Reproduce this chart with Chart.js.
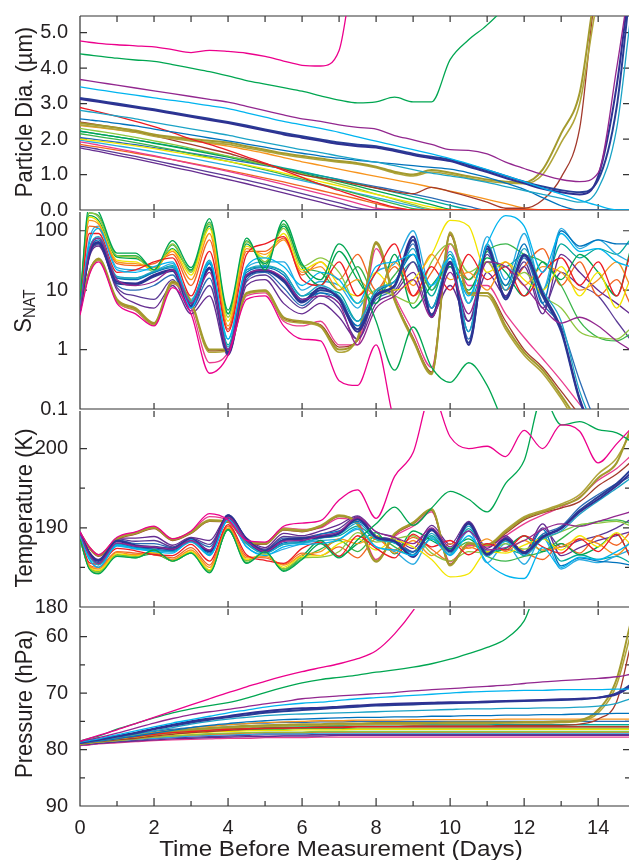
<!DOCTYPE html>
<html>
<head>
<meta charset="utf-8">
<script src="https://cdn.jsdelivr.net/npm/chart.js@4.4.1/dist/chart.umd.min.js"></script>
<style>
  body { margin: 0; background: #fff; }
  #fig { position: relative; width: 629px; height: 860px; overflow: hidden;
         font-family: 'Liberation Sans', Arial, sans-serif; color: #231f20; }
  #fig canvas { position: absolute; left: 0; }
  .ytitle { position: absolute; white-space: nowrap; font-size: 22px; line-height: 1;
            transform: translate(-50%, -50%) rotate(-90deg) scaleY(1.12); }
  .ytitle sub { font-size: 15px; vertical-align: -4px; }
  .xtitle { position: absolute; white-space: nowrap; font-size: 22px; line-height: 1;
            transform: translate(-50%, -50%) scaleX(1.1); }
</style>
</head>
<body>
<div id="fig">
  <canvas id="diaChart" width="631" height="226" style="top:0px"></canvas>
  <canvas id="snatChart" width="631" height="229" style="top:196px"></canvas>
  <canvas id="tempChart" width="631" height="228" style="top:395px"></canvas>
  <canvas id="presChart" width="631" height="267" style="top:593px"></canvas>
  <div class="ytitle" style="left:24px;top:112px">Particle Dia. (µm)</div>
  <div class="ytitle" style="left:24px;top:311px">S<sub>NAT</sub></div>
  <div class="ytitle" style="left:24px;top:508px">Temperature (K)</div>
  <div class="ytitle" style="left:24px;top:704px">Pressure (hPa)</div>
  <div class="xtitle" style="left:341px;top:849px">Time Before Measurement (Days)</div>
</div>
<script>
// sample times (days before measurement) shared by every trajectory
const days = [0, 0.25, 0.5, 1, 1.5, 2, 2.5, 3, 3.5, 4, 4.5, 5, 5.5, 6, 6.5, 7, 7.5, 8,
              8.5, 9, 9.5, 10, 10.5, 11, 11.5, 12, 12.5, 13, 13.5, 14, 14.5, 14.86];

const trajNames = ['magenta', 'green', 'purple', 'cyan', 'darkblue', 'navy', 'teal', 'blue',
                   'red', 'olive', 'olive2', 'brown', 'orange', 'yellow', 'yellowgreen', 'green2',
                   'green3', 'violet', 'pink', 'orangered', 'lightblue', 'indigo', 'seagreen', 'blue2'];
const trajColors = ['#ec008c', '#00a651', '#92278f', '#00b4ef', '#2e3192', '#283e96', '#1ba3c6', '#0072bc',
                    '#ed1c24', '#a39a2e', '#b0a53a', '#a33a2c', '#f7941d', '#f2e500', '#8dc63f', '#00a550',
                    '#3ab54a', '#662d91', '#e93d8f', '#f26522', '#29abe2', '#5b3a96', '#00a99d', '#2b6cb5'];
const trajWidths = [1.3, 1.3, 1.3, 1.3, 2, 2, 1.3, 1.3,
                    1.3, 2, 1.6, 1.3, 1.3, 1.3, 1.3, 1.3,
                    1.3, 1.3, 1.3, 1.3, 1.3, 1.3, 1.3, 1.3];

// particle diameter (µm), one row per trajectory
const diameter = [
  [4.77,4.73,4.70,4.66,4.63,4.60,4.52,4.44,4.50,4.47,4.42,4.33,4.20,4.08,4.06,4.50,7,7,7,7,7,7,7,7,7,7,7,7,7,7,7,7],
  [4.40,4.37,4.34,4.28,4.23,4.19,4.10,4.00,3.90,3.78,3.65,3.55,3.45,3.35,3.22,3.10,3.02,3.05,3.18,3.05,3.05,4.24,4.80,5.22,5.80,7,7,7,7,7,7,7],
  [3.68,3.64,3.60,3.52,3.44,3.36,3.28,3.20,3.12,3.04,2.92,2.80,2.68,2.57,2.50,2.40,2.33,2.28,2.10,1.98,1.85,1.70,1.68,1.58,1.35,1.17,1.00,0.86,0.80,1.05,4.0,6.5],
  [3.47,3.43,3.39,3.31,3.24,3.16,3.09,3.02,2.94,2.86,2.74,2.62,2.50,2.40,2.30,2.19,2.06,1.94,1.82,1.70,1.58,1.45,1.30,1.14,0.97,0.80,0.62,0.45,0.28,0.12,0,0],
  [3.13,3.09,3.05,2.97,2.89,2.81,2.72,2.63,2.54,2.45,2.35,2.24,2.13,2.04,1.95,1.86,1.80,1.76,1.66,1.55,1.46,1.38,1.22,1.07,0.90,0.75,0.60,0.50,0.44,0.95,3.5,6.5],
  [3.16,3.12,3.08,3.00,2.92,2.84,2.75,2.66,2.57,2.48,2.38,2.27,2.17,2.08,1.99,1.90,1.84,1.80,1.70,1.59,1.50,1.42,1.27,1.12,0.96,0.80,0.66,0.56,0.50,0.85,2.9,6.2],
  [2.81,2.77,2.73,2.65,2.57,2.47,2.38,2.29,2.20,2.11,2.00,1.90,1.80,1.70,1.62,1.52,1.43,1.35,1.25,1.14,1.04,0.96,0.88,0.78,0.66,0.55,0.44,0.33,0.22,0.60,2.3,5.3],
  [2.57,2.54,2.51,2.44,2.37,2.28,2.20,2.12,2.03,1.95,1.86,1.77,1.68,1.60,1.52,1.46,1.40,1.35,1.30,1.25,1.20,1.15,1.05,0.92,0.76,0.58,0.35,0.12,0,0,0,0],
  [2.89,2.83,2.77,2.64,2.50,2.35,2.18,2.00,1.85,1.68,1.50,1.32,1.12,0.92,0.72,0.55,0.38,0.22,0.08,0,0,0,0,0,0,0,0,0,0,0,0,0],
  [2.45,2.42,2.39,2.32,2.24,2.13,2.06,2.00,1.95,1.90,1.80,1.70,1.60,1.52,1.45,1.38,1.32,1.22,1.08,1.00,1.13,1.05,0.95,0.86,0.80,0.78,1.14,2.16,3.30,6.5,7,7],
  [2.40,2.37,2.34,2.27,2.19,2.08,2.01,1.95,1.90,1.85,1.75,1.66,1.56,1.48,1.41,1.35,1.29,1.19,1.04,0.96,1.07,1.00,0.90,0.81,0.76,0.74,1.00,1.90,3.00,6.0,7,7],
  [2.48,2.44,2.40,2.32,2.22,2.10,1.97,1.85,1.72,1.60,1.45,1.30,1.15,1.00,0.90,0.82,0.72,0.62,0.52,0.46,0.64,0.52,0.38,0.22,0.05,0.05,0.28,0.92,2.3,6.5,7,7],
  [2.38,2.35,2.32,2.26,2.19,2.12,2.04,1.96,1.88,1.80,1.70,1.60,1.48,1.36,1.26,1.15,1.05,0.95,0.85,0.75,0.64,0.53,0.42,0.30,0.18,0.05,0,0,0,0,0,0],
  [2.00,1.97,1.94,1.88,1.81,1.73,1.64,1.55,1.46,1.37,1.27,1.16,1.04,0.92,0.80,0.68,0.56,0.44,0.32,0.20,0.08,0,0,0,0,0,0,0,0,0,0,0],
  [2.30,2.26,2.22,2.14,2.05,1.95,1.85,1.74,1.63,1.52,1.40,1.28,1.15,1.02,0.88,0.74,0.60,0.45,0.30,0.15,0.02,0,0,0,0,0,0,0,0,0,0,0],
  [2.22,2.18,2.14,2.06,1.98,1.88,1.79,1.69,1.59,1.49,1.38,1.27,1.16,1.04,0.92,0.80,0.67,0.54,0.41,0.28,0.15,0.02,0,0,0,0,0,0,0,0,0,0],
  [2.15,2.11,2.07,1.99,1.90,1.80,1.70,1.59,1.48,1.37,1.25,1.13,1.00,0.87,0.73,0.59,0.45,0.31,0.17,0.04,0,0,0,0,0,0,0,0,0,0,0,0],
  [1.75,1.70,1.65,1.54,1.44,1.33,1.21,1.10,0.98,0.86,0.74,0.61,0.48,0.35,0.22,0.09,0,0,0,0,0,0,0,0,0,0,0,0,0,0,0,0],
  [1.92,1.88,1.83,1.73,1.63,1.53,1.42,1.31,1.20,1.09,0.97,0.85,0.72,0.59,0.46,0.33,0.19,0.05,0,0,0,0,0,0,0,0,0,0,0,0,0,0],
  [1.85,1.81,1.77,1.69,1.60,1.51,1.42,1.32,1.22,1.12,1.01,0.90,0.79,0.67,0.55,0.43,0.31,0.18,0.06,0,0,0,0,0,0,0,0,0,0,0,0,0],
  [1.97,1.93,1.89,1.81,1.73,1.64,1.55,1.46,1.36,1.26,1.16,1.05,0.94,0.83,0.71,0.59,0.47,0.35,0.23,0.11,0,0,0,0,0,0,0,0,0,0,0,0],
  [1.80,1.76,1.71,1.61,1.51,1.40,1.29,1.18,1.07,0.96,0.84,0.72,0.59,0.46,0.33,0.20,0.06,0,0,0,0,0,0,0,0,0,0,0,0,0,0,0],
  [2.22,2.18,2.14,2.06,1.98,1.89,1.80,1.71,1.61,1.51,1.41,1.30,1.19,1.08,0.97,0.85,0.74,0.62,0.50,0.38,0.26,0.13,0.02,0,0,0,0,0,0,0,0,0],
  [2.05,2.01,1.98,1.91,1.84,1.76,1.68,1.60,1.52,1.43,1.34,1.25,1.16,1.06,0.96,0.86,0.76,0.66,0.56,0.45,0.34,0.22,0.10,0,0,0,0,0,0,0,0,0]
];

// NAT saturation ratio
const snat = [
  [3.8,18,30,6,4,2.5,11,4,0.4,0.8,7,8,2.5,1.5,1.4,0.3,0.25,1.2,0.06,0.03,0.02,0.02,0.02,0.02,0.02,0.02,0.02,0.02,0.02,0.02,0.02,0.02],
  [7,260,210,42,42,22,68,24,160,4.6,75,22,150,28,15,60,20,3,0.45,2.4,0.5,0.28,0.6,0.25,0.05,0.02,0.02,0.02,0.02,0.02,0.02,0.02],
  [4.6,45,75,15,12,14,22,6,20,1.0,18,22,16,7,8,6,1.2,5,8,15,3.5,20,4,30,25,12,5,2.8,3.5,2.5,1.4,1.0],
  [5,60,110,22,20,25,30,5,30,1.5,25,35,25,12,20,15,6,25,30,40,12,35,8,60,180,120,20,90,45,50,30,25],
  [4.5,40,65,14,13,18,22,5.5,24,0.9,18,22,15,6.5,11,7,2.0,8,12,80,3.5,30,1.2,55,7,40,9,2.2,0.15,0.03,0.02,0.02],
  [4.4,40,62,13,12.5,17,21,5.2,23,0.85,17,21,14,6.2,10,7.5,2.2,8.5,12,70,3.8,28,1.3,50,7.5,38,8,2.0,0.14,0.03,0.02,0.02],
  [4.8,48,80,17,16,21,25,6.5,32,1.1,22,26,20,8,12,8,3,10,14,50,5,35,2,60,10,50,10,3,0.2,0.04,0.02,0.02],
  [4.5,42,70,16,15,20,24,6,28,1.0,20,24,18,7,9,7,2.5,9,14,40,5,30,2,50,12,60,6,100,55,70,60,60],
  [5,90,90,20,22,30,35,8,45,2,40,60,80,15,12,30,8,20,60,8,25,10,40,15,25,8,20,35,12,30,8,40],
  [4.6,20,34,7,5,2.8,14,6.5,1.0,1.0,9,10,3.5,3.0,2.5,1.0,1.5,65,7,1.5,0.4,90,9,9,2.5,0.9,0.45,0.17,0.06,0.03,0.02,0.02],
  [4.5,19,32,6.5,4.6,2.6,13,6,0.9,0.95,8.5,9.5,3.2,2.8,2.4,0.9,1.6,60,6.5,1.4,0.38,95,8.5,8,2.2,0.8,0.4,0.15,0.05,0.03,0.02,0.02],
  [4.4,21,33,6.8,4.8,2.7,13.5,6.2,0.95,0.98,8.8,9.8,3.4,2.9,2.6,1.1,1.4,62,7,1.6,0.42,85,9,9,3,1.0,0.5,0.2,0.08,0.04,0.02,0.02],
  [6,150,130,30,28,24,45,15,90,2.5,50,40,70,20,25,10,15,8,30,12,40,15,20,10,30,12,25,20,10,15,30,12],
  [6,170,140,32,30,22,48,18,110,3,55,35,90,22,30,12,8,20,10,15,40,150,120,20,30,15,10,25,8,20,5,15],
  [7,200,170,38,36,20,60,20,130,3.5,65,30,110,25,35,20,6,10,8,6,30,60,20,30,12,20,8,5,2.0,1.6,1.5,2.2],
  [6,180,150,36,34,24,50,22,120,4,60,28,120,24,12,45,15,6,40,5,12,25,10,35,20,8,30,15,40,20,8,45],
  [6.5,200,180,38,38,22,58,21,140,4,68,26,130,26,20,10,25,8,18,40,10,30,15,45,60,40,30,12,3,1.6,1.4,1.8],
  [4.2,35,55,10,6,5,12,4,8,0.8,12,15,6,4,6,3.5,1.5,6,9,20,4,12,3,20,8,25,4,40,20,10,6,4],
  [4.2,20,32,6.5,4.5,2.6,13,5,0.6,0.9,8,9,3,2.5,3,1.2,1.2,50,8,2,0.5,60,12,12,4,1.6,0.7,0.3,0.12,0.05,0.03,0.02],
  [5.5,120,110,28,26,28,40,12,70,2.2,45,45,75,18,30,15,40,10,25,8,20,60,15,30,10,25,50,12,30,8,15,6],
  [5,70,120,24,22,22,28,7,28,1.5,24,30,30,10,14,12,5,20,28,100,10,45,6,80,15,90,10,110,50,70,40,30],
  [4.3,38,58,11,8,7,15,4.5,12,0.85,14,18,9,5,8,5,1.5,8,10,30,5,25,3,40,8,30,5,20,12,8,3,1.5],
  [5,50,75,16,16,20,26,6.5,30,1.2,22,25,20,8,10,9,3,10,14,30,8,40,6,30,25,40,10,60,35,50,40,70],
  [4.5,38,60,12,10,12,18,5,16,0.9,15,20,11,5.5,9,6,2.2,7,11,60,3.5,28,1.5,45,8,35,6,2.5,0.3,0.05,0.02,0.02]
];

// temperature (K)
const temperature = [
  [189.5,187.6,186.6,188.8,189.5,190.2,188.6,189.6,191.8,191.0,188.4,188.2,190.2,190.6,190.9,193.5,194.8,191.2,196.5,199.5,207,201.5,200.0,200.3,199.0,202.3,200.0,203.0,202.2,198.2,200.6,202.4],
  [188.6,184.8,184.2,186.4,186.2,187.2,185.8,186.8,184.3,189.8,185.5,187.0,184.5,186.0,188.0,186.2,188.5,190.5,192.6,190.3,192.5,194.6,193.6,192.0,195.6,198.5,206.5,203.0,203.4,202.4,202.0,201.0],
  [189.3,186.6,185.5,188.1,187.7,187.6,187.3,188.4,187.2,191.3,188.4,187.0,188.3,188.4,189.0,189.5,191.3,189.5,188.8,188.0,190.0,187.6,189.6,187.2,187.5,188.4,189.8,190.5,190.2,190.8,191.5,192.0],
  [189.0,186.0,185.0,187.8,187.4,187.0,186.8,188.5,186.5,191.0,187.6,186.5,187.6,187.9,188.0,188.5,190.0,187.6,187.2,186.5,188.6,186.5,189.0,185.6,184.0,183.6,187.5,185.0,186.3,186.0,187.0,188.0],
  [189.4,186.8,185.8,188.3,187.7,187.5,187.3,188.5,187.0,191.6,188.5,187.0,188.4,188.6,188.8,189.3,191.2,188.8,188.3,186.3,189.8,187.0,190.6,186.6,188.6,186.8,188.8,189.9,192.0,193.6,195.3,196.8],
  [189.4,186.8,185.9,188.4,187.8,187.6,187.4,188.6,187.1,191.6,188.6,187.1,188.5,188.7,188.9,189.3,191.1,188.8,188.3,186.4,189.7,187.1,190.5,186.7,188.6,186.9,188.9,190.0,192.2,193.9,195.6,197.2],
  [189.2,186.5,185.3,187.9,187.4,187.2,187.0,188.3,186.6,191.0,188.1,186.8,187.9,188.1,188.7,189.2,190.6,188.6,188.1,186.6,189.3,186.8,190.2,186.4,188.3,186.5,188.6,189.6,191.7,193.4,195.0,196.2],
  [189.3,186.7,185.6,188.0,187.5,187.3,187.1,188.4,186.8,191.2,188.3,186.9,188.1,188.3,189.2,189.6,190.8,188.9,188.1,186.9,189.7,187.1,190.6,186.6,188.5,186.5,189.8,185.2,186.2,185.8,185.6,185.3],
  [189.1,185.6,185.4,187.4,187.1,186.6,186.5,187.9,185.8,190.4,186.6,185.9,185.5,187.4,188.2,186.4,189.0,187.4,186.2,189.2,187.6,188.4,186.6,188.0,187.2,189.0,187.6,186.8,188.6,187.0,189.2,186.4],
  [189.4,187.5,186.5,188.6,189.3,190.0,188.5,189.4,190.9,190.8,188.2,188.0,189.8,189.6,190.2,191.5,190.5,185.7,189.2,190.6,192.3,185.3,188.0,187.8,189.5,191.2,192.0,192.8,193.8,196.3,198.2,202.3],
  [189.4,187.6,186.6,188.7,189.4,190.1,188.6,189.5,191.0,190.8,188.3,188.1,189.9,189.7,190.3,191.6,190.4,185.8,189.3,190.7,192.4,185.2,188.1,187.9,189.7,191.4,192.2,193.0,194.2,196.8,198.8,201.8],
  [189.3,187.4,186.4,188.5,189.2,189.9,188.4,189.3,190.8,190.7,188.1,187.9,189.7,189.5,190.1,191.4,190.6,185.8,189.1,190.5,192.2,185.4,188.0,187.8,189.3,191.0,191.9,192.5,193.3,195.3,196.8,198.2],
  [188.8,185.2,184.8,186.9,186.6,186.8,186.0,187.2,185.0,190.0,186.2,186.4,185.3,186.6,187.0,188.6,188.0,189.0,186.8,188.4,186.5,188.0,187.4,188.6,187.0,188.4,187.2,187.6,188.6,188.0,186.6,188.2],
  [188.7,185.1,184.6,186.7,186.5,186.9,185.9,187.0,184.7,189.9,186.0,186.7,185.0,186.4,186.5,188.0,188.6,187.2,188.4,187.6,186.0,183.8,184.2,187.0,186.8,187.8,188.6,187.2,189.0,187.6,189.4,188.0],
  [188.6,184.9,184.4,186.5,186.3,187.1,185.8,186.8,184.5,189.8,185.8,186.8,184.8,186.2,186.3,187.0,189.4,188.2,188.6,189.0,186.8,185.8,187.0,186.8,188.0,187.3,188.6,189.5,190.4,190.6,190.8,190.3],
  [188.7,185.0,184.5,186.6,186.4,186.7,185.9,186.9,184.6,189.7,185.9,186.8,184.8,186.4,188.4,186.4,188.0,189.4,186.7,189.6,188.4,187.4,188.6,186.8,187.4,189.0,187.0,188.0,186.6,187.6,189.2,186.4],
  [188.6,184.9,184.3,186.5,186.2,187.0,185.8,186.8,184.4,189.8,185.6,186.9,184.6,186.1,187.3,188.4,187.0,189.0,187.6,186.5,188.6,187.1,188.2,186.4,185.8,186.4,187.0,188.6,190.2,190.8,191.0,190.6],
  [189.5,187.0,186.0,188.7,188.7,188.9,187.8,188.8,188.4,191.5,188.7,187.5,189.3,189.0,189.6,190.4,191.5,189.5,188.8,187.4,190.3,187.9,190.8,187.4,189.0,186.9,190.5,186.5,187.5,188.4,189.0,189.5],
  [189.4,187.5,186.5,188.7,189.4,190.1,188.5,189.5,191.4,190.9,188.3,188.1,190.0,189.8,190.0,191.2,190.8,186.0,188.9,190.2,192.0,185.7,187.8,187.6,189.0,190.5,191.6,192.6,193.9,196.0,197.5,199.0],
  [188.9,185.3,185.0,187.0,186.8,186.6,186.2,187.5,185.3,190.2,186.4,186.2,185.4,186.8,186.5,187.6,186.2,188.6,187.2,188.8,187.3,185.8,187.6,186.8,188.4,187.0,186.0,188.0,186.8,189.0,187.8,189.4],
  [189.0,186.1,185.0,187.7,187.3,187.1,187.0,188.2,186.6,190.9,187.6,186.6,187.3,188.0,188.4,188.6,189.8,187.6,187.0,185.4,188.8,186.6,189.6,185.6,188.0,185.4,188.8,184.8,186.0,185.6,186.5,187.2],
  [189.5,186.9,185.9,188.6,188.3,188.4,187.6,188.7,187.9,191.5,188.6,187.3,188.9,188.8,189.2,189.9,191.4,189.0,188.5,187.0,189.8,187.3,190.6,186.6,188.8,186.8,190.0,187.6,188.4,189.0,190.0,191.0],
  [189.2,186.4,185.4,188.0,187.5,187.2,187.0,188.4,186.6,191.0,188.0,186.8,187.9,188.2,188.7,189.0,190.2,188.5,188.1,187.0,189.0,186.6,189.9,187.0,187.3,186.7,189.0,185.8,186.6,186.0,186.4,185.6],
  [189.4,186.9,185.9,188.5,188.0,188.0,187.5,188.6,187.6,191.5,188.6,187.2,188.7,188.7,189.0,189.5,191.0,189.0,188.4,186.6,189.9,187.1,190.6,186.8,188.8,186.9,189.2,190.2,192.6,194.2,195.6,196.4]
];

// pressure (hPa)
const pressure = [
  [78.5,78.0,77.5,76.5,75.4,74.3,73.2,72.1,71.0,69.9,68.9,67.9,67.0,66.2,65.5,64.8,63.9,62.5,59.5,55.4,50,50,50,50,50,50,50,50,50,50,50,50],
  [78.5,78.0,77.6,76.4,75.4,74.4,73.5,72.8,72.2,71.7,70.9,69.9,69.0,68.2,67.6,67.2,66.8,66.3,65.9,65.4,64.8,64.0,63.0,61.9,60.4,57.2,50,50,50,50,50,50],
  [78.6,78.2,77.9,77.1,76.2,75.3,74.5,73.8,73.3,72.9,72.4,71.9,71.5,71.0,70.7,70.5,70.3,70.1,69.9,69.6,69.4,69.2,69.0,68.8,68.6,68.3,68.0,67.8,67.6,67.4,67.1,66.7],
  [78.7,78.4,78.1,77.4,76.7,76.0,75.3,74.7,74.1,73.5,73.0,72.5,72.1,71.8,71.6,71.3,71.0,70.8,70.6,70.4,70.2,70.0,69.8,69.7,69.6,69.5,69.5,69.4,69.4,69.4,69.3,69.3],
  [78.8,78.5,78.2,77.6,77.0,76.3,75.6,75.0,74.5,74.1,73.6,73.2,72.9,72.7,72.6,72.4,72.2,72.0,71.9,71.8,71.7,71.6,71.6,71.5,71.4,71.3,71.2,71.1,71.0,70.8,70.2,68.9],
  [78.8,78.5,78.3,77.7,77.1,76.4,75.8,75.2,74.7,74.3,73.9,73.5,73.2,73.0,72.8,72.6,72.4,72.2,72.1,72.0,71.9,71.8,71.7,71.6,71.5,71.4,71.3,71.2,71.1,70.8,70.0,68.6],
  [78.8,78.6,78.4,77.9,77.3,76.7,76.1,75.5,75.0,74.6,74.3,74.0,73.8,73.7,73.6,73.5,73.4,73.3,73.2,73.1,73.0,72.9,72.8,72.8,72.7,72.7,72.6,72.6,72.5,72.3,71.8,71.0],
  [78.9,78.7,78.5,78.1,77.6,77.1,76.6,76.1,75.7,75.4,75.1,74.9,74.7,74.6,74.5,74.4,74.3,74.3,74.2,74.2,74.1,74.1,74.0,74.0,73.9,73.9,73.8,73.8,73.7,73.7,73.6,73.6],
  [78.9,78.7,78.4,78.0,77.7,77.3,77.0,76.8,76.6,76.4,76.3,76.2,76.2,76.1,76.1,76.1,76.0,76.0,76.0,76.0,76.0,76.0,76.0,76.0,76.0,76.0,76.0,76.0,76.0,76.0,76.0,76.0],
  [78.8,78.6,78.4,78.0,77.6,77.2,76.8,76.5,76.2,76.0,75.8,75.7,75.6,75.5,75.5,75.4,75.4,75.3,75.3,75.3,75.3,75.2,75.2,75.2,75.2,75.1,75.1,75.0,74.8,73.0,67.5,58.0],
  [78.9,78.7,78.5,78.1,77.7,77.3,77.0,76.7,76.4,76.2,76.0,75.9,75.8,75.7,75.7,75.6,75.6,75.5,75.5,75.5,75.4,75.4,75.4,75.4,75.3,75.3,75.3,75.2,75.0,73.5,68.5,60.0],
  [79.0,78.8,78.6,78.3,78.0,77.6,77.3,77.0,76.8,76.6,76.4,76.3,76.2,76.1,76.0,76.0,75.9,75.9,75.9,75.8,75.8,75.8,75.8,75.8,75.7,75.7,75.7,75.7,75.5,74.6,71.5,62.0],
  [78.8,78.6,78.4,78.0,77.5,77.0,76.6,76.2,75.9,75.6,75.4,75.2,75.1,75.0,74.9,74.9,74.8,74.8,74.8,74.7,74.7,74.7,74.7,74.7,74.6,74.6,74.6,74.6,74.6,74.6,74.6,74.6],
  [79.0,78.8,78.6,78.2,77.9,77.6,77.3,77.1,76.9,76.8,76.7,76.6,76.6,76.5,76.5,76.5,76.4,76.4,76.4,76.4,76.4,76.4,76.4,76.4,76.4,76.4,76.4,76.4,76.4,76.4,76.4,76.4],
  [79.1,78.9,78.7,78.4,78.1,77.8,77.6,77.4,77.2,77.1,77.0,76.9,76.9,76.9,76.8,76.8,76.8,76.8,76.8,76.8,76.8,76.8,76.8,76.8,76.8,76.8,76.8,76.8,76.8,76.8,76.8,76.8],
  [78.8,78.6,78.3,77.9,77.5,77.2,76.9,76.7,76.5,76.3,76.2,76.1,76.1,76.0,76.0,76.0,75.9,75.9,75.9,75.9,75.9,75.9,75.9,75.9,75.9,75.9,75.9,75.9,75.9,75.9,75.9,75.9],
  [78.9,78.7,78.5,78.1,77.7,77.4,77.1,76.9,76.7,76.6,76.5,76.4,76.4,76.3,76.3,76.3,76.2,76.2,76.2,76.2,76.2,76.2,76.2,76.2,76.2,76.2,76.2,76.2,76.2,76.2,76.2,76.2],
  [79.2,79.1,78.9,78.7,78.5,78.3,78.1,78.0,77.9,77.8,77.7,77.7,77.6,77.6,77.6,77.5,77.5,77.5,77.5,77.5,77.5,77.5,77.5,77.5,77.5,77.5,77.5,77.5,77.5,77.5,77.5,77.5],
  [79.3,79.2,79.0,78.8,78.6,78.4,78.3,78.2,78.1,78.0,78.0,77.9,77.9,77.9,77.8,77.8,77.8,77.8,77.8,77.8,77.8,77.8,77.8,77.8,77.8,77.8,77.8,77.8,77.8,77.8,77.8,77.8],
  [79.0,78.8,78.7,78.4,78.1,77.8,77.6,77.4,77.3,77.2,77.1,77.0,77.0,77.0,76.9,76.9,76.9,76.9,76.9,76.9,76.9,76.9,76.9,76.9,76.9,76.9,76.9,76.9,76.9,76.9,76.9,76.9],
  [79.1,78.9,78.8,78.5,78.2,78.0,77.8,77.6,77.5,77.4,77.3,77.2,77.2,77.2,77.1,77.1,77.1,77.1,77.1,77.1,77.1,77.1,77.1,77.1,77.1,77.1,77.1,77.1,77.1,77.1,77.1,77.1],
  [79.2,79.0,78.9,78.6,78.4,78.1,77.9,77.8,77.7,77.6,77.5,77.4,77.4,77.4,77.3,77.3,77.3,77.3,77.3,77.3,77.3,77.3,77.3,77.3,77.3,77.3,77.3,77.3,77.3,77.3,77.3,77.3],
  [78.8,78.6,78.3,77.8,77.4,77.0,76.7,76.4,76.2,76.0,75.9,75.8,75.8,75.7,75.7,75.7,75.6,75.6,75.6,75.6,75.6,75.6,75.6,75.6,75.6,75.6,75.6,75.6,75.6,75.6,75.6,75.6],
  [78.7,78.5,78.2,77.7,77.2,76.8,76.4,76.1,75.8,75.6,75.4,75.3,75.2,75.2,75.1,75.1,75.0,75.0,75.0,75.0,75.0,75.0,75.0,75.0,75.0,75.0,75.0,75.0,75.0,75.0,75.0,75.0]
];

// tick values
const dayTicks = [0, 1, 2, 3, 4, 5, 6, 7, 8, 9, 10, 11, 12, 13, 14];
const diaTicks = [0, 1, 2, 3, 4, 5];
const snatTicks = [0.1, 1, 10, 100];
const tempTicks = [180, 190, 200];
const tempMinor = [185, 195];
const presTicks = [60, 70, 80, 90];
const presMinor = [65, 75, 85];

const AXIS = '#333333';
const TEXT = '#231f20';
Chart.defaults.font.family = "'Liberation Sans', Arial, sans-serif";
Chart.defaults.color = TEXT;

// frame with inward tick marks; the shared edge between panels is drawn once
const frameTicks = {
  id: 'frameTicks',
  beforeDatasetsDraw(chart, args, opts) {
    const { ctx, chartArea: a, scales } = chart;
    ctx.save();
    ctx.strokeStyle = AXIS;
    ctx.lineWidth = 1.2;
    ctx.beginPath();
    if (opts.drawTop) {
      ctx.moveTo(a.left, a.top);
      ctx.lineTo(a.right, a.top);
    }
    ctx.moveTo(a.left, a.top);
    ctx.lineTo(a.left, a.bottom);
    ctx.lineTo(a.right, a.bottom);
    ctx.lineTo(a.right, a.top);
    dayTicks.forEach(d => {
      const x = scales.x.getPixelForValue(d);
      const even = d % 2 === 0;
      if (opts.topAll || even) {
        ctx.moveTo(x, a.top);
        ctx.lineTo(x, a.top + 6);
      }
      if (opts.bottomAll || even) {
        const len = opts.bottomAll && even ? 8 : (opts.bottomAll ? 5 : 6);
        ctx.moveTo(x, a.bottom);
        ctx.lineTo(x, a.bottom - len);
      }
    });
    const yTick = (v, len) => {
      const y = scales.y.getPixelForValue(v);
      ctx.moveTo(a.left, y); ctx.lineTo(a.left + len, y);
      ctx.moveTo(a.right, y); ctx.lineTo(a.right - len, y);
    };
    opts.major.forEach(v => yTick(v, 7));
    (opts.minor || []).forEach(v => yTick(v, 5));
    ctx.stroke();
    ctx.restore();
  }
};

function makeDatasets(rows) {
  return rows.map((vals, k) => ({
    label: trajNames[k],
    data: vals.map((v, i) => ({ x: days[i], y: v })),
    borderColor: trajColors[k],
    borderWidth: trajWidths[k],
    pointRadius: 0,
    fill: false,
    cubicInterpolationMode: 'monotone'
  }));
}

function makePanel(id, rows, yScale, frame, pad, showX) {
  const xScale = {
    type: 'linear',
    min: 0,
    max: 14.86,
    display: showX,
    grid: { display: false },
    border: { display: false },
    afterBuildTicks: s => { s.ticks = dayTicks.map(v => ({ value: v })); },
    afterFit: s => { if (showX) s.height = 54; },
    ticks: {
      autoSkip: false,
      maxRotation: 0,
      padding: 2,
      font: { size: 20 },
      color: TEXT,
      callback: v => (v % 2 === 0 ? String(v) : '')
    }
  };
  return new Chart(document.getElementById(id), {
    type: 'line',
    data: { datasets: makeDatasets(rows) },
    options: {
      responsive: false,
      animation: false,
      events: [],
      layout: { autoPadding: false, padding: pad },
      plugins: { legend: { display: false }, tooltip: { enabled: false }, frameTicks: frame },
      scales: { x: xScale, y: yScale }
    },
    plugins: [frameTicks]
  });
}

function yAxis(extra, tickList, label) {
  return Object.assign({
    grid: { display: false },
    border: { display: false },
    afterFit: s => { s.width = 80; },
    afterBuildTicks: s => { s.ticks = tickList.map(v => ({ value: v })); },
    ticks: { padding: 4, font: { size: 20 }, color: TEXT, autoSkip: false, callback: label }
  }, extra);
}

makePanel('diaChart', diameter,
  yAxis({ type: 'linear', min: 0, max: 5.47 }, diaTicks, v => Number(v).toFixed(1)),
  { major: diaTicks, minor: [], topAll: true, drawTop: true },
  { left: 0, right: 1, top: 14, bottom: 15 }, false);

makePanel('snatChart', snat,
  yAxis({ type: 'logarithmic', min: 0.1, max: 207 }, snatTicks, v => String(v)),
  { major: snatTicks, minor: [] },
  { left: 0, right: 1, top: 15, bottom: 15 }, false);

makePanel('tempChart', temperature,
  yAxis({ type: 'linear', min: 180, max: 204.75 }, tempTicks, v => String(v)),
  { major: tempTicks, minor: tempMinor },
  { left: 0, right: 1, top: 15, bottom: 15 }, false);

makePanel('presChart', pressure,
  yAxis({ type: 'linear', min: 55.1, max: 90, reverse: true }, presTicks, v => String(v)),
  { major: presTicks, minor: presMinor, bottomAll: true },
  { left: 0, right: 1, top: 15, bottom: 0 }, true);
</script>
</body>
</html>
